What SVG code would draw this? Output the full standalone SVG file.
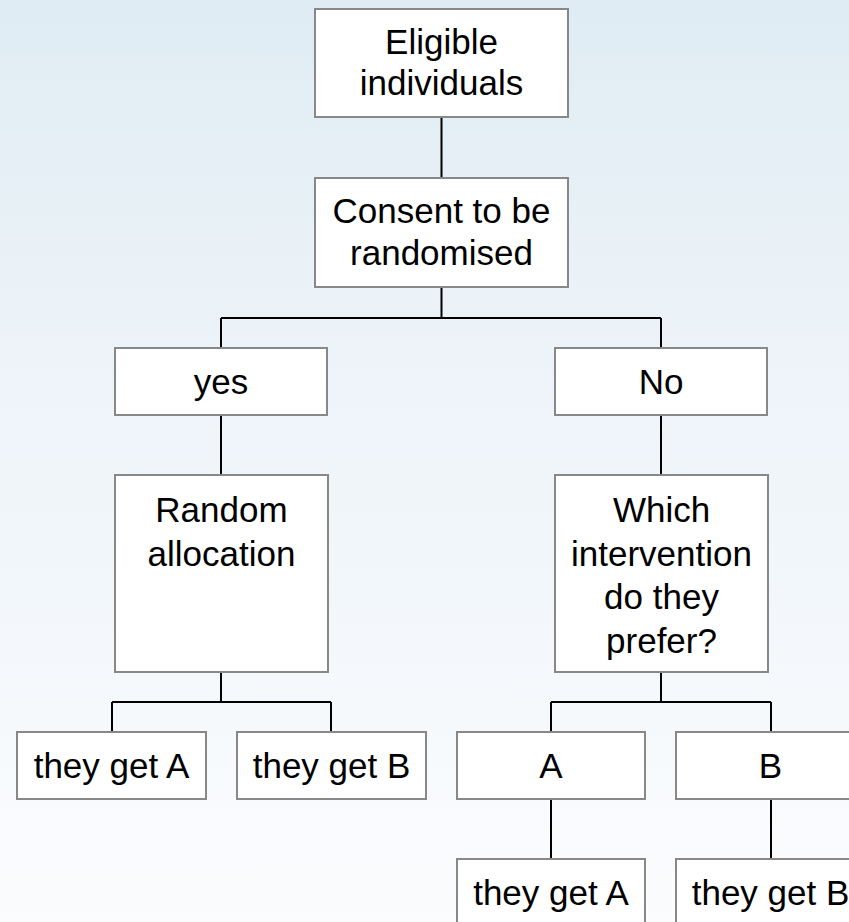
<svg xmlns="http://www.w3.org/2000/svg" width="849" height="922" viewBox="0 0 849 922">
<defs>
<linearGradient id="bg" x1="0" y1="0" x2="0" y2="1">
<stop offset="0" stop-color="#dfecf3"/>
<stop offset="0.35" stop-color="#ecf3f8"/>
<stop offset="1" stop-color="#fbfcfe"/>
</linearGradient>
<style>
.box{fill:#ffffff;stroke:#888888;stroke-width:2}
.t{font-family:"Liberation Sans",Arial,sans-serif;font-size:35px;fill:#000000;text-anchor:middle}
.c{stroke:#000000;stroke-width:2;fill:none}
</style>
</defs>
<rect x="0" y="0" width="849" height="922" fill="url(#bg)"/>
<g id="connectors">
<path class="c" d="M441.5 117V178M441.5 287V318M221 318H661M221 318V348M661 318V348M221 415V475M661 415V475M221 672V702M112 702H331M112 702V732M331 702V732M661 672V702M551 702H771M551 702V732M771 702V732M551 799V859M771 799V859"/>
</g>
<g id="eligible"><rect class="box" x="315" y="9" width="253" height="108"/><text class="t" x="441.5" y="54">Eligible</text><text class="t" x="441.5" y="95">individuals</text></g>
<g id="consent"><rect class="box" x="315" y="178" width="253" height="109"/><text class="t" x="441.5" y="223">Consent to be</text><text class="t" x="441.5" y="265">randomised</text></g>
<g id="yes"><rect class="box" x="115" y="348" width="212" height="67"/><text class="t" x="221" y="394">yes</text></g>
<g id="no"><rect class="box" x="555" y="348" width="212" height="67"/><text class="t" x="661" y="394">No</text></g>
<g id="random"><rect class="box" x="115" y="475" width="213" height="197"/><text class="t" x="221.5" y="522">Random</text><text class="t" x="221.5" y="566">allocation</text></g>
<g id="which"><rect class="box" x="555" y="475" width="213" height="197"/><text class="t" x="661.5" y="522">Which</text><text class="t" x="661.5" y="566">intervention</text><text class="t" x="661.5" y="609">do they</text><text class="t" x="661.5" y="653">prefer?</text></g>
<g id="getA1"><rect class="box" x="17" y="732" width="189" height="67"/><text class="t" x="111.5" y="778">they get A</text></g>
<g id="getB1"><rect class="box" x="237" y="732" width="189" height="67"/><text class="t" x="331.5" y="778">they get B</text></g>
<g id="prefA"><rect class="box" x="457" y="732" width="188" height="67"/><text class="t" x="551" y="778">A</text></g>
<g id="prefB"><rect class="box" x="676" y="732" width="189" height="67"/><text class="t" x="770.5" y="778">B</text></g>
<g id="getA2"><rect class="box" x="457" y="859" width="188" height="67"/><text class="t" x="551" y="905">they get A</text></g>
<g id="getB2"><rect class="box" x="676" y="859" width="189" height="67"/><text class="t" x="770.5" y="905">they get B</text></g>
</svg>
